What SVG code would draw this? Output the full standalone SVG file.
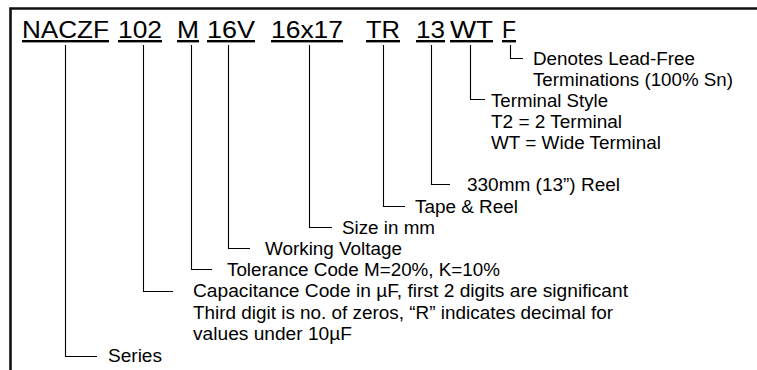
<svg xmlns="http://www.w3.org/2000/svg" width="757" height="370" viewBox="0 0 757 370">
<style>
text{font-family:"Liberation Sans",Arial,Helvetica,sans-serif;fill:#000}
.code{font-size:24px;text-decoration:underline}
.d{font-size:17.5px}
.frame{fill:none;stroke:#111;stroke-width:2.6}
.ld{fill:none;stroke:#000;stroke-width:1.1}
</style>
<rect width="757" height="370" fill="#fff"/>
<path class="frame" d="M10.5,370 V8.5 H757"/>
<g id="code">
<g id="p-naczf"><text class="code" x="22" y="38" textLength="87" lengthAdjust="spacingAndGlyphs">NACZF</text></g>
<g id="p-102"><text class="code" x="118" y="38" textLength="44" lengthAdjust="spacingAndGlyphs">102</text></g>
<g id="p-m"><text class="code" x="177" y="38" textLength="22" lengthAdjust="spacingAndGlyphs">M</text></g>
<g id="p-16v"><text class="code" x="207" y="38" textLength="48" lengthAdjust="spacingAndGlyphs">16V</text></g>
<g id="p-16x17"><text class="code" x="271" y="38" textLength="72" lengthAdjust="spacingAndGlyphs">16x17</text></g>
<g id="p-tr"><text class="code" x="366" y="38" textLength="34" lengthAdjust="spacingAndGlyphs">TR</text></g>
<g id="p-13"><text class="code" x="416" y="38" textLength="29" lengthAdjust="spacingAndGlyphs">13</text></g>
<g id="p-wt"><text class="code" x="450" y="38" textLength="43" lengthAdjust="spacingAndGlyphs">WT</text></g>
<g id="p-f"><text class="code" x="502" y="38" textLength="14" lengthAdjust="spacingAndGlyphs">F</text></g>
</g>
<g id="connectors">
<path class="ld" d="M510.5,45 V58.5 H523"/>
<path class="ld" d="M470.5,45 V99.5 H485"/>
<path class="ld" d="M431.5,45 V184.5 H450"/>
<path class="ld" d="M383.5,45 V206.5 H405"/>
<path class="ld" d="M309.5,45 V227.5 H332"/>
<path class="ld" d="M228.5,45 V248.5 H250"/>
<path class="ld" d="M191.5,45 V269.5 H212"/>
<path class="ld" d="M143.5,45 V291.5 H173"/>
<path class="ld" d="M65.5,45 V356.5 H97"/>
</g>
<g id="desc-f"><text class="d" x="533" y="65" textLength="162" lengthAdjust="spacingAndGlyphs">Denotes Lead-Free</text><text class="d" x="533" y="86" textLength="200" lengthAdjust="spacingAndGlyphs">Terminations (100% Sn)</text></g>
<g id="desc-wt"><text class="d" x="491" y="107" textLength="117" lengthAdjust="spacingAndGlyphs">Terminal Style</text><text class="d" x="491" y="128" textLength="131" lengthAdjust="spacingAndGlyphs">T2 = 2 Terminal</text><text class="d" x="491" y="149" textLength="170" lengthAdjust="spacingAndGlyphs">WT = Wide Terminal</text></g>
<g id="desc-13"><text class="d" x="467" y="191" textLength="153" lengthAdjust="spacingAndGlyphs">330mm (13”) Reel</text></g>
<g id="desc-tr"><text class="d" x="415" y="213" textLength="103" lengthAdjust="spacingAndGlyphs">Tape &amp; Reel</text></g>
<g id="desc-16x17"><text class="d" x="342" y="234" textLength="93" lengthAdjust="spacingAndGlyphs">Size in mm</text></g>
<g id="desc-16v"><text class="d" x="265" y="255" textLength="137" lengthAdjust="spacingAndGlyphs">Working Voltage</text></g>
<g id="desc-m"><text class="d" x="227" y="276" textLength="273" lengthAdjust="spacingAndGlyphs">Tolerance Code M=20%, K=10%</text></g>
<g id="desc-102"><text class="d" x="193" y="297" textLength="435" lengthAdjust="spacingAndGlyphs">Capacitance Code in µF, first 2 digits are significant</text><text class="d" x="193" y="319" textLength="420" lengthAdjust="spacingAndGlyphs">Third digit is no. of zeros, “R” indicates decimal for</text><text class="d" x="193" y="340" textLength="159" lengthAdjust="spacingAndGlyphs">values under 10µF</text></g>
<g id="desc-naczf"><text class="d" x="108" y="362" textLength="54" lengthAdjust="spacingAndGlyphs">Series</text></g>
</svg>
